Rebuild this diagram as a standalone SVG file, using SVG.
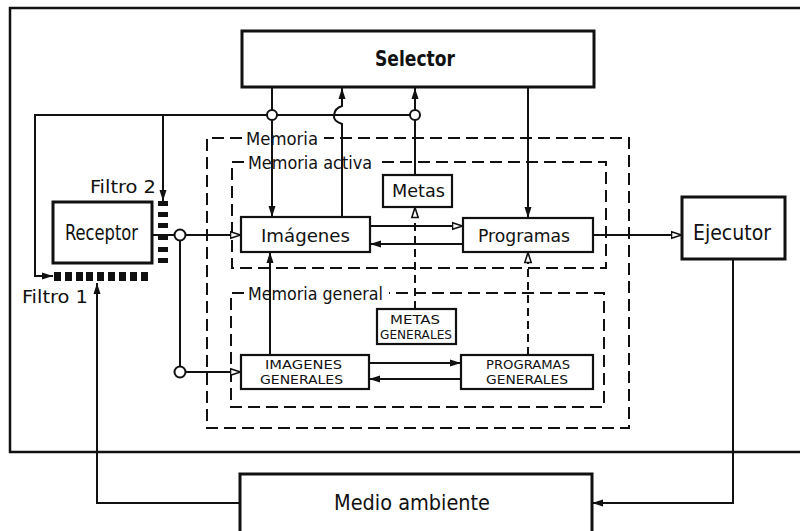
<svg xmlns="http://www.w3.org/2000/svg" width="800" height="531" viewBox="0 0 800 531">
<style>
  .box{fill:#fff;stroke:#111;stroke-width:2.2}
  .thick{stroke-width:3}
  .mem{fill:none;stroke:#111;stroke-width:2;stroke-dasharray:12 6}
  .ln{fill:none;stroke:#111;stroke-width:2}
  .dln{fill:none;stroke:#111;stroke-width:2;stroke-dasharray:8 5}
  .frame{fill:none;stroke:#111;stroke-width:2.5}
  .jn{fill:#fff;stroke:#111;stroke-width:2}
  text{font-family:"DejaVu Sans Condensed","DejaVu Sans","Liberation Sans",sans-serif;fill:#111}
  .lbl{font-size:18px}
  .big{font-size:20.5px}
  .small{font-size:13px}
  .filt{fill:#111}
</style>
<defs>
  <marker id="af" markerUnits="userSpaceOnUse" markerWidth="12" markerHeight="10" refX="11" refY="5" orient="auto">
    <path d="M0,1.5 L11,5 L0,8.5 Z" fill="#111"/>
  </marker>
  <marker id="ao" markerUnits="userSpaceOnUse" markerWidth="13" markerHeight="10" refX="11.5" refY="5" orient="auto">
    <path d="M1,1.8 L11,5 L1,8.2 Z" fill="#fff" stroke="#111" stroke-width="1.6"/>
  </marker>
</defs>
<rect width="800" height="531" fill="#fff"/>

<!-- outer frame -->
<path class="frame" d="M800,8 H10 V452 H800"/>

<!-- memory regions -->
<g id="memoria">
  <path class="mem" d="M242,138 H207 V428 H629 V138 H324"/>
  <text class="lbl" x="246" y="144.5" textLength="72" lengthAdjust="spacingAndGlyphs">Memoria</text>
</g>
<g id="memoria-activa">
  <path class="mem" d="M244,162 H232 V268 H606 V162 H378"/>
  <text class="lbl" x="248" y="168.5" textLength="124" lengthAdjust="spacingAndGlyphs">Memoria activa</text>
</g>
<g id="memoria-general">
  <path class="mem" d="M244,293 H231 V407 H604 V293 H389"/>
  <text class="lbl" x="248" y="299.5" textLength="135" lengthAdjust="spacingAndGlyphs">Memoria general</text>
</g>

<!-- connectors -->
<g id="connectors">
  <line class="ln" x1="272" y1="87" x2="272" y2="217" marker-end="url(#af)"/>
  <path class="ln" d="M415,115 H35 V276 H53" marker-end="url(#af)"/>
  <path class="ln" d="M163,115 V201" marker-end="url(#af)"/>
  <path class="ln" d="M342,217 V124 Q333,121 334,115 Q335,108 342,106 V88" marker-end="url(#af)"/>
  <line class="ln" x1="415" y1="175" x2="415" y2="88" marker-end="url(#af)"/>
  <line class="ln" x1="528" y1="87" x2="528" y2="218" marker-end="url(#af)"/>
  <line class="ln" x1="152" y1="235" x2="241" y2="235" marker-end="url(#ao)"/>
  <line class="ln" x1="180" y1="235" x2="180" y2="372"/>
  <line class="ln" x1="180" y1="372" x2="241" y2="372" marker-end="url(#ao)"/>
  <line class="ln" x1="370" y1="226" x2="463" y2="226" marker-end="url(#ao)"/>
  <line class="ln" x1="463" y1="244" x2="370" y2="244" marker-end="url(#af)"/>
  <line class="dln" x1="415" y1="309" x2="415" y2="207" marker-end="url(#ao)"/>
  <line class="ln" x1="270" y1="355" x2="270" y2="252" marker-end="url(#af)"/>
  <line class="dln" x1="528" y1="355" x2="528" y2="252" marker-end="url(#ao)"/>
  <line class="ln" x1="369" y1="363" x2="461" y2="363" marker-end="url(#af)"/>
  <line class="ln" x1="461" y1="379" x2="369" y2="379" marker-end="url(#af)"/>
  <line class="ln" x1="593" y1="235" x2="682" y2="235" marker-end="url(#ao)"/>
  <path class="ln" d="M733,259 V503 H592" marker-end="url(#af)"/>
  <path class="ln" d="M240,503 H97 V283" marker-end="url(#af)"/>
  <circle class="jn" cx="272" cy="115" r="5"/>
  <circle class="jn" cx="415" cy="115" r="5"/>
  <circle class="jn" cx="180" cy="235" r="5.5"/>
  <circle class="jn" cx="180" cy="372" r="5.5"/>
</g>

<!-- nodes -->
<g id="selector">
  <rect class="box thick" x="242" y="31" width="352" height="56"/>
  <text class="big" x="375" y="66" textLength="80" lengthAdjust="spacingAndGlyphs" font-weight="bold">Selector</text>
</g>
<g id="receptor">
  <rect class="box thick" x="53" y="202" width="99" height="61"/>
  <text class="big" x="65" y="240" textLength="73" lengthAdjust="spacingAndGlyphs">Receptor</text>
</g>
<g id="filtro-2">
  <rect class="filt" x="158" y="201" width="10" height="5"/>
  <rect class="filt" x="158" y="212" width="10" height="5"/>
  <rect class="filt" x="158" y="223" width="10" height="5"/>
  <rect class="filt" x="158" y="235" width="10" height="5"/>
  <rect class="filt" x="158" y="247" width="10" height="5"/>
  <rect class="filt" x="158" y="258" width="10" height="5"/>
  <text class="lbl" x="90" y="193" textLength="66" lengthAdjust="spacingAndGlyphs" font-size="19">Filtro 2</text>
</g>
<g id="filtro-1">
  <rect class="filt" x="54" y="272" width="7" height="9"/>
  <rect class="filt" x="65" y="272" width="7" height="9"/>
  <rect class="filt" x="76" y="272" width="7" height="9"/>
  <rect class="filt" x="86" y="272" width="7" height="9"/>
  <rect class="filt" x="97" y="272" width="7" height="9"/>
  <rect class="filt" x="108" y="272" width="7" height="9"/>
  <rect class="filt" x="119" y="272" width="7" height="9"/>
  <rect class="filt" x="130" y="272" width="7" height="9"/>
  <rect class="filt" x="141" y="272" width="7" height="9"/>
  <text class="lbl" x="22" y="303" textLength="66" lengthAdjust="spacingAndGlyphs" font-size="20">Filtro 1</text>
</g>
<g id="imagenes">
  <rect class="box" x="241" y="217" width="129" height="35"/>
  <text class="lbl" x="261" y="242" textLength="89" lengthAdjust="spacingAndGlyphs">Imágenes</text>
</g>
<g id="programas">
  <rect class="box" x="463" y="218" width="130" height="34"/>
  <text class="lbl" x="478" y="242" textLength="92" lengthAdjust="spacingAndGlyphs">Programas</text>
</g>
<g id="metas">
  <rect class="box" x="383" y="175" width="69" height="32"/>
  <text class="lbl" x="392" y="197" textLength="53" lengthAdjust="spacingAndGlyphs">Metas</text>
</g>
<g id="ejecutor">
  <rect class="box thick" x="682" y="197" width="103" height="62"/>
  <text class="big" x="693" y="240" textLength="78" lengthAdjust="spacingAndGlyphs">Ejecutor</text>
</g>
<g id="metas-generales">
  <rect class="box" x="377" y="309" width="79" height="35"/>
  <text class="small" x="390" y="323.5" textLength="50" lengthAdjust="spacingAndGlyphs">METAS</text>
  <text class="small" x="380" y="339" textLength="72" lengthAdjust="spacingAndGlyphs">GENERALES</text>
</g>
<g id="imagenes-generales">
  <rect class="box" x="241" y="355" width="128" height="34"/>
  <text class="small" x="265" y="368.5" textLength="77" lengthAdjust="spacingAndGlyphs">IMAGENES</text>
  <text class="small" x="260" y="384" textLength="83" lengthAdjust="spacingAndGlyphs">GENERALES</text>
</g>
<g id="programas-generales">
  <rect class="box" x="461" y="355" width="132" height="34"/>
  <text class="small" x="486" y="368.5" textLength="84" lengthAdjust="spacingAndGlyphs">PROGRAMAS</text>
  <text class="small" x="486" y="384" textLength="82" lengthAdjust="spacingAndGlyphs">GENERALES</text>
</g>
<g id="medio-ambiente">
  <rect class="box thick" x="240" y="474" width="352" height="70"/>
  <text class="big" x="334" y="510" textLength="156" lengthAdjust="spacingAndGlyphs">Medio ambiente</text>
</g>
</svg>
